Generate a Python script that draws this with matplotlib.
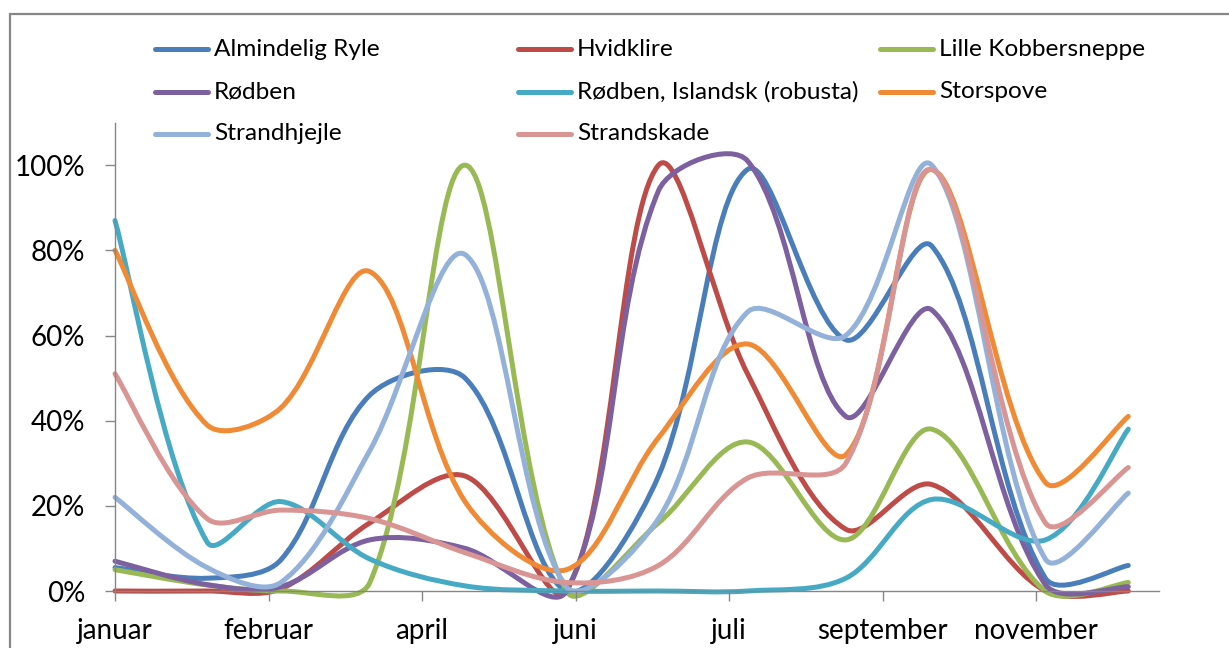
import numpy as np
import matplotlib
matplotlib.use("Agg")
import matplotlib.pyplot as plt
from matplotlib.path import Path
from matplotlib.patches import PathPatch, Rectangle
from matplotlib.lines import Line2D
from matplotlib.ticker import FixedLocator, FuncFormatter

# ---------------- data ----------------
# survey dates (day of year)
days = [6, 36, 60, 89, 120, 153, 183, 212, 244, 272, 309, 336]

series_names = ["Almindelig Ryle", "Hvidklire", "Lille Kobbersneppe",
                "Rødben", "Rødben, Islandsk (robusta)", "Storspove",
                "Strandhjejle", "Strandskade"]

almindelig_ryle    = [5.5, 3.0, 7.3, 46, 50, 0, 27, 99, 59, 81, 3.0, 6]
hvidklire          = [0, 0, 0.5, 16, 27, 0, 100, 51, 14.5, 25, 0, 0]
lille_kobbersneppe = [5, 1.4, 0, 2, 100, 0, 16, 35, 12, 38, 0, 2]
roedben            = [7, 1.5, 1, 12, 10, 0, 94, 101, 41, 66, 1.5, 1]
roedben_islandsk   = [87, 11.5, 21, 7.5, 1.2, 0, 0, 0, 3, 21.5, 12, 38]
storspove          = [80, 39, 43, 75, 21, 5, 36, 58, 32, 99, 25.5, 41]
strandhjejle       = [22, 5.5, 2, 33, 79, 1, 17, 65.5, 60, 100, 7.5, 23]
strandskade        = [51, 17, 19, 17, 9, 2, 6, 26.5, 30, 99, 16, 29]

series_values = [almindelig_ryle, hvidklire, lille_kobbersneppe, roedben,
                 roedben_islandsk, storspove, strandhjejle, strandskade]

colors = ["#4A7EBB", "#BE4B48", "#98B954", "#7D60A0",
          "#46AAC5", "#F08A35", "#93B1D9", "#D99594"]

tick_days = [6, 56, 106, 156, 206, 256, 306]
tick_labels = ["januar", "februar", "april", "juni", "juli",
               "september", "november"]
y_ticks = [0, 20, 40, 60, 80, 100]

FONT = ["Lato", "DejaVu Sans"]
plt.rcParams["font.family"] = FONT

W, H = 1229, 648
fig = plt.figure(figsize=(W / 100, H / 100), dpi=100)
fig.patch.set_facecolor("white")

# outer chart border (cropped chart area)
fig.add_artist(Rectangle((10 / W, -0.1), 1.2, (H - 14) / H + 0.1,
                         transform=fig.transFigure, fill=False,
                         edgecolor="#878787", linewidth=1.6))

ax_l, ax_r, ax_t, ax_b = 115, 1159, 122.6, 591
ax = fig.add_axes([ax_l / W, 1 - ax_b / H, (ax_r - ax_l) / W, (ax_b - ax_t) / H])
ax.set_xlim(6, 346)
ax.set_ylim(0, 110)
ax.patch.set_alpha(0)

for s in ["top", "right"]:
    ax.spines[s].set_visible(False)
for s in ["left", "bottom"]:
    ax.spines[s].set_color("#868686")
    ax.spines[s].set_linewidth(1.0)

ax.xaxis.set_major_locator(FixedLocator(tick_days))
ax.set_xticklabels(tick_labels)
ax.yaxis.set_major_locator(FixedLocator(y_ticks))
ax.yaxis.set_major_formatter(FuncFormatter(lambda v, p: f"{v:.0f}%"))
ax.tick_params(axis="both", direction="out", length=7.5, width=1.0,
               color="#868686", labelsize=20, labelcolor="black")
ax.tick_params(axis="y", pad=14)
ax.tick_params(axis="x", pad=12)


def smooth_path(ax, x, y):
    """Chord-length scaled Catmull-Rom Bezier (close to Excel's smoothed line)."""
    pts = ax.transData.transform(np.column_stack([x, y]))
    n = len(pts)
    verts = [pts[0]]
    codes = [Path.MOVETO]

    def dist(a, b):
        return float(np.hypot(*(b - a)))

    for i in range(n - 1):
        p0 = pts[i - 1] if i > 0 else pts[i]
        p1 = pts[i]
        p2 = pts[i + 1]
        p3 = pts[i + 2] if i + 2 < n else pts[i + 1]
        d01, d12, d23 = dist(p0, p1), dist(p1, p2), dist(p2, p3)
        if i == 0:
            c1 = p1 + (p2 - p1) / 3 * 0.5
        else:
            c1 = p1 + (p2 - p0) * d12 / (d01 + d12) / 3
        if i + 2 >= n:
            c2 = p2 - (p2 - p1) / 3 * 0.5
        else:
            c2 = p2 - (p3 - p1) * d12 / (d12 + d23) / 3
        verts += [c1, c2, p2]
        codes += [Path.CURVE4] * 3
    verts = ax.transData.inverted().transform(np.array(verts))
    return Path(verts, codes)


for name, vals, col in zip(series_names, series_values, colors):
    path = smooth_path(ax, days, vals)
    patch = PathPatch(path, facecolor="none", edgecolor=col, linewidth=3.6,
                      capstyle="round", joinstyle="round", clip_on=False,
                      label=name)
    ax.add_patch(patch)

# legend (3 columns, row-major like the original)
col_x = [155, 518, 880]
row_y = [49, 92, 134]
for i, (name, col) in enumerate(zip(series_names, colors)):
    r, c = divmod(i, 3)
    x0 = col_x[c]
    yy = 1 - row_y[r] / H
    fig.add_artist(Line2D([x0 / W, (x0 + 53) / W], [yy, yy],
                          transform=fig.transFigure, color=col,
                          linewidth=3.6, solid_capstyle="round"))
    fig.text((x0 + 59) / W, yy, name, fontsize=17.6, va="center", ha="left",
             color="black")

fig.savefig("out.png", dpi=100, facecolor="white")
